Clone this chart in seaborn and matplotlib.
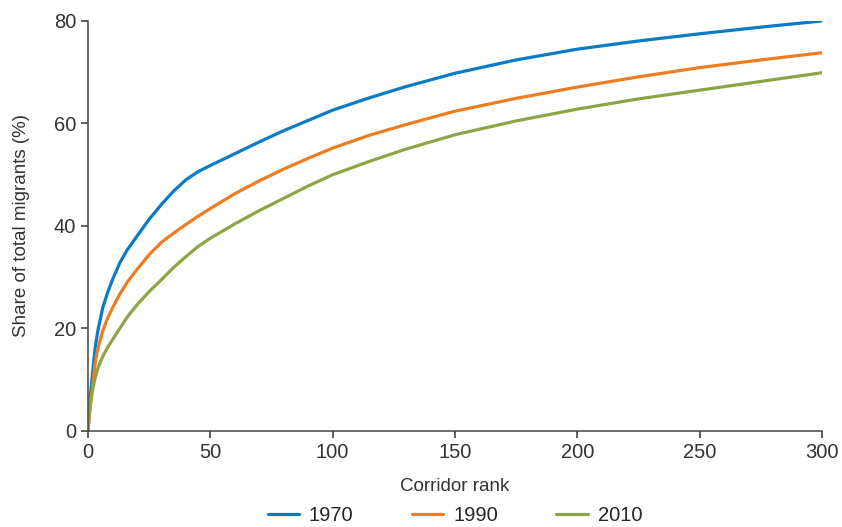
import numpy as np
import pandas as pd
import matplotlib.pyplot as plt
import seaborn as sns

# ──────────────────────────────────────────────
# Data
# ──────────────────────────────────────────────
ranks = [0, 0.5, 1, 2, 3, 4, 6, 8, 10, 13, 16, 20, 25, 30, 35, 40, 45, 50,
         60, 70, 80, 90, 100, 115, 130, 150, 175, 200, 225, 250, 275, 300]

share_1970 = [0, 4.0, 7.0, 12.0, 16.4, 19.5, 24.0, 27.0, 29.5, 32.8, 35.3,
              38.0, 41.3, 44.2, 46.8, 49.0, 50.6, 51.8, 54.1, 56.4, 58.6,
              60.6, 62.6, 65.0, 67.2, 69.8, 72.4, 74.5, 76.1, 77.5, 78.8, 80.0]
share_1990 = [0, 2.5, 5.0, 9.5, 13.5, 16.0, 19.5, 22.0, 24.0, 26.7, 29.0,
              31.5, 34.4, 36.8, 38.6, 40.3, 41.9, 43.4, 46.3, 48.8, 51.1,
              53.2, 55.2, 57.7, 59.8, 62.4, 64.9, 67.1, 69.1, 70.9, 72.4, 73.8]
share_2010 = [0, 3.5, 5.5, 8.3, 10.5, 12.2, 14.5, 16.3, 17.8, 20.0, 22.2,
              24.6, 27.2, 29.5, 31.9, 34.0, 36.0, 37.6, 40.4, 43.0, 45.4,
              47.8, 50.0, 52.6, 55.0, 57.8, 60.5, 62.8, 64.8, 66.5, 68.2, 69.9]

years = ["1970", "1990", "2010"]
colors = ["#0a7bc4", "#ee7d22", "#8da544"]

df = pd.DataFrame({
    "rank": ranks * 3,
    "share": share_1970 + share_1990 + share_2010,
    "year": sum([[y] * len(ranks) for y in years], []),
})

# ──────────────────────────────────────────────
# Plot
# ──────────────────────────────────────────────
sns.set_style("ticks")
plt.rcParams["font.family"] = ["Liberation Sans", "DejaVu Sans"]

fig = plt.figure(figsize=(8.42, 5.27), dpi=100)
ax = fig.add_axes([0.1045, 0.1822, 0.8717, 0.778])

sns.lineplot(data=df, x="rank", y="share", hue="year", palette=colors,
             linewidth=2.3, ax=ax, legend=True)

ax.set_xlim(0, 300)
ax.set_ylim(0, 80)
ax.set_xticks([0, 50, 100, 150, 200, 250, 300])
ax.set_yticks([0, 20, 40, 60, 80])
ax.set_xlabel("Corridor rank", fontsize=13.5, color="#333333", labelpad=12)
ax.set_ylabel("Share of total migrants (%)", fontsize=13.5, color="#333333", labelpad=17)
ax.tick_params(axis="both", labelsize=14.5, colors="#333333", length=5, width=1.1)

sns.despine(ax=ax)
for s in ["left", "bottom"]:
    ax.spines[s].set_color("#444444")
    ax.spines[s].set_linewidth(1.1)

handles, labels = ax.get_legend_handles_labels()
ax.legend(handles, labels, loc="center", bbox_to_anchor=(0.5, -0.207),
          ncol=3, frameon=False, fontsize=14.5, handlelength=1.55,
          columnspacing=2.9, handletextpad=0.5, borderpad=0.2)

fig.savefig("out.png", dpi=100)
